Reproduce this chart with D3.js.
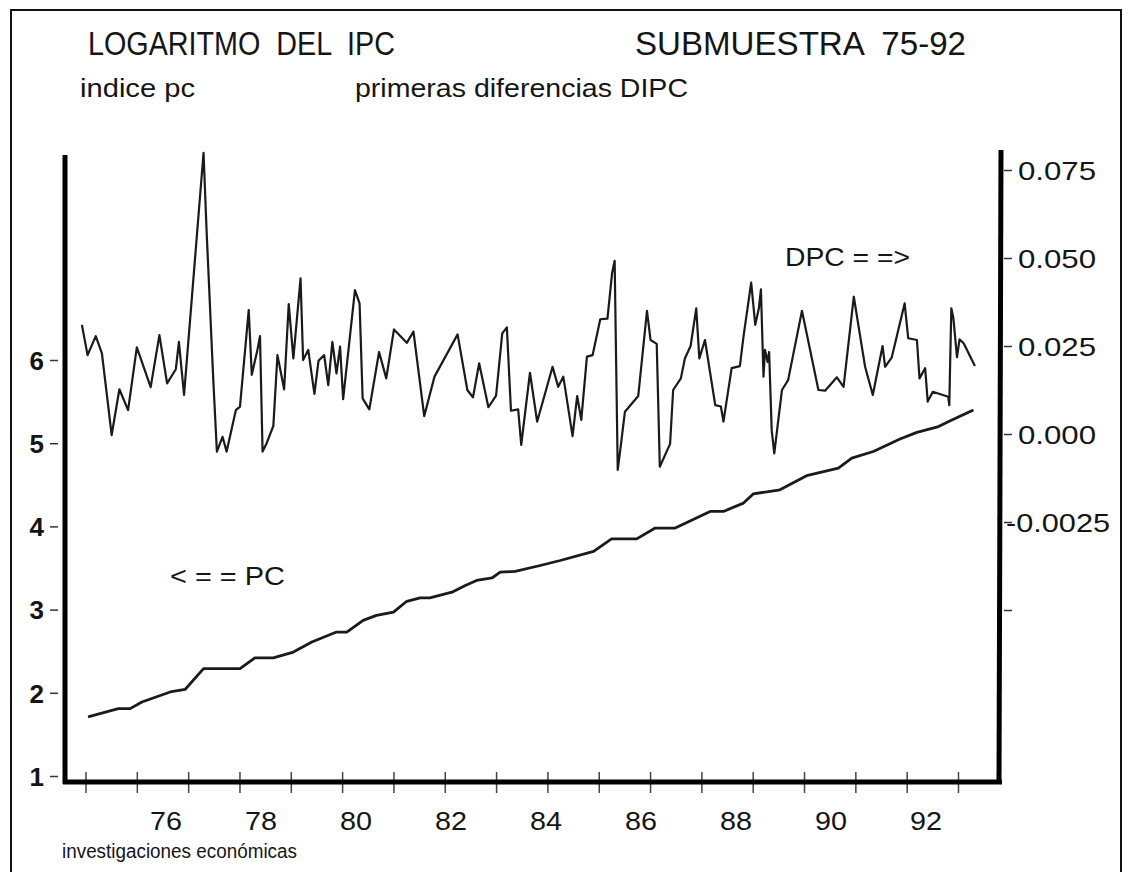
<!DOCTYPE html>
<html>
<head>
<meta charset="utf-8">
<script src="https://cdn.jsdelivr.net/npm/d3@7"></script>
<style>
  body { margin: 0; background: #fff; }
  text { font-family: "Liberation Sans", Arial, Helvetica, sans-serif; fill: #151515; }
</style>
</head>
<body>
<svg id="chart" width="1135" height="872"></svg>
<script>
// years on the time axis and the printed labels
var years = [1975,1976,1977,1978,1979,1980,1981,1982,1983,1984,1985,1986,1987,1988,1989,1990,1991,1992];
var yearLabels = ["76","78","80","82","84","86","88","90","92"];

// left axis (log CPI) and right axis (first differences)
var pcTicks = [1,2,3,4,5,6];
var dpcTicks = [0.075,0.05,0.025,0,-0.025,-0.05];
var dpcTickLabels = ["0.075","0.050","0.025","0.000","-0.0025",""];

// PC : logaritmo del IPC
var pcDates = [1975.05,1975.64,1975.87,1976.10,1976.65,1976.94,1977.30,1978.01,1978.30,1978.66,
  1979.05,1979.41,1979.89,1980.09,1980.41,1980.67,1981.00,1981.26,1981.52,1981.71,
  1982.14,1982.40,1982.62,1982.92,1983.08,1983.37,1983.86,1984.25,1984.90,1985.25,
  1985.74,1986.10,1986.49,1987.17,1987.43,1987.82,1988.01,1988.53,1989.05,1989.67,
  1989.93,1990.35,1990.87,1991.20,1991.62,1991.85,1992.30];
var pcValues = [1.71,1.81,1.81,1.89,2.01,2.04,2.29,2.29,2.42,2.42,
  2.49,2.61,2.73,2.73,2.87,2.93,2.97,3.10,3.14,3.14,
  3.21,3.29,3.35,3.38,3.45,3.46,3.53,3.59,3.70,3.85,
  3.85,3.98,3.98,4.18,4.18,4.28,4.39,4.44,4.61,4.70,
  4.82,4.90,5.05,5.13,5.20,5.27,5.40];

// DPC : primeras diferencias
var dpcDates = [1974.93,1975.04,1975.20,1975.32,1975.51,1975.66,1975.83,1976.00,1976.27,1976.44,
  1976.59,1976.76,1976.82,1976.92,1977.30,1977.36,1977.49,1977.56,1977.67,1977.75,
  1977.93,1978.01,1978.18,1978.24,1978.35,1978.40,1978.45,1978.53,1978.66,1978.74,
  1978.87,1978.96,1979.05,1979.19,1979.24,1979.34,1979.46,1979.54,1979.65,1979.73,
  1979.81,1979.89,1979.96,1980.02,1980.25,1980.34,1980.40,1980.53,1980.72,1980.86,
  1981.01,1981.26,1981.39,1981.60,1981.80,1982.25,1982.44,1982.55,1982.67,1982.85,
  1983.00,1983.12,1983.21,1983.29,1983.43,1983.49,1983.66,1983.80,1984.10,1984.21,
  1984.31,1984.49,1984.58,1984.66,1984.77,1984.88,1985.03,1985.17,1985.26,1985.31,
  1985.37,1985.42,1985.51,1985.77,1985.94,1986.01,1986.13,1986.19,1986.39,1986.45,
  1986.60,1986.68,1986.79,1986.90,1986.96,1987.07,1987.27,1987.38,1987.43,1987.59,
  1987.75,1987.82,1987.97,1988.05,1988.12,1988.16,1988.21,1988.24,1988.29,1988.32,
  1988.37,1988.42,1988.57,1988.69,1988.96,1989.28,1989.41,1989.64,1989.77,1989.97,
  1990.09,1990.19,1990.34,1990.53,1990.58,1990.71,1990.96,1991.03,1991.20,1991.25,
  1991.36,1991.41,1991.51,1991.81,1991.83,1991.87,1991.91,1991.98,1992.03,1992.11,1992.33];
var dpcValues = [0.0310,0.0224,0.0278,0.0229,-0.0003,0.0127,0.0068,0.0246,0.0133,0.0281,
  0.0144,0.0184,0.0262,0.0111,0.0799,0.0575,0.0153,-0.0050,-0.0008,-0.0050,
  0.0068,0.0078,0.0352,0.0168,0.0239,0.0278,-0.0050,-0.0026,0.0023,0.0224,
  0.0127,0.0369,0.0215,0.0442,0.0210,0.0239,0.0114,0.0208,0.0224,0.0139,
  0.0262,0.0172,0.0248,0.0099,0.0409,0.0371,0.0101,0.0070,0.0233,0.0158,
  0.0297,0.0259,0.0291,0.0051,0.0163,0.0283,0.0125,0.0104,0.0201,0.0076,
  0.0109,0.0286,0.0303,0.0066,0.0070,-0.0031,0.0174,0.0035,0.0191,0.0134,
  0.0163,-0.0006,0.0108,0.0040,0.0220,0.0224,0.0326,0.0328,0.0457,0.0492,
  -0.0102,-0.0045,0.0063,0.0108,0.0350,0.0267,0.0256,-0.0093,-0.0028,0.0125,
  0.0158,0.0215,0.0250,0.0357,0.0215,0.0267,0.0082,0.0078,0.0035,0.0187,
  0.0193,0.0276,0.0430,0.0310,0.0357,0.0411,0.0163,0.0239,0.0205,0.0233,
  0.0011,-0.0055,0.0125,0.0153,0.0350,0.0125,0.0123,0.0161,0.0134,0.0390,
  0.0281,0.0191,0.0111,0.0250,0.0191,0.0218,0.0371,0.0272,0.0267,0.0158,
  0.0187,0.0092,0.0120,0.0106,0.0082,0.0357,0.0329,0.0218,0.0269,0.0258,0.0193];

var svg = d3.select("#chart");

var x = d3.scaleLinear().domain([1975, 1992]).range([85.5, 958]);
var yPC = d3.scaleLinear().domain([1, 6]).range([776, 360]);
var yDPC = d3.scaleLinear().domain([-0.05, 0.075]).range([610, 170]);
var xLabel = d3.scalePoint().domain(yearLabels).range([166, 926]);

// outer frame
svg.append("rect")
  .attr("x", 11).attr("y", 10)
  .attr("width", 1110).attr("height", 900)
  .attr("fill", "none")
  .attr("stroke", "#111")
  .attr("stroke-width", 2);

// headings (narrow face in the original, squeezed to the printed width)
function label(txt, px, py, size, len) {
  var t = svg.append("text")
    .attr("x", px).attr("y", py)
    .attr("font-size", size)
    .style("white-space", "pre")
    .text(txt);
  if (len) t.attr("textLength", len).attr("lengthAdjust", "spacingAndGlyphs");
  return t;
}
label("LOGARITMO  DEL  IPC", 88, 55, 33, 307);
label("SUBMUESTRA  75-92", 635, 55, 33, 331);
label("indice pc", 80, 97, 26, 115);
label("primeras diferencias DIPC", 355, 97, 26, 333);
label("DPC = =>", 785, 266, 25, 125);
label("< = = PC", 170, 585, 25, 115);
label("investigaciones económicas", 62, 858, 20, 235);

// left axis ticks + labels
var gl = svg.append("g")
  .attr("transform", "translate(58,0)")
  .call(d3.axisLeft(yPC).tickValues(pcTicks).tickSize(8).tickPadding(6).tickFormat(d3.format("d")));
gl.select(".domain").remove();
gl.selectAll("line").attr("stroke", "#333").attr("stroke-width", 1.5);
gl.selectAll("text").attr("font-size", 26).attr("font-weight", "bold").attr("dy", "0.36em")
  .attr("font-family", "'Liberation Sans', Arial, sans-serif").attr("fill", "#151515");

// right axis ticks + labels
var gr = svg.append("g")
  .attr("transform", "translate(1004,0)")
  .call(d3.axisRight(yDPC).tickValues(dpcTicks).tickSize(8).tickPadding(6)
    .tickFormat(function(d, i) { return dpcTickLabels[i]; }));
gr.select(".domain").remove();
gr.selectAll("line").attr("stroke", "#333").attr("stroke-width", 1.5);
gr.selectAll("text").attr("font-size", 26).attr("dy", "0.36em")
  .attr("font-family", "'Liberation Sans', Arial, sans-serif").attr("fill", "#151515")
  .each(function() {
    var el = d3.select(this);
    var w = this.getComputedTextLength();
    if (w <= 0) return;
    if (el.text().charAt(0) == "-") {
      // minus sign sits over the tick in the original
      el.attr("x", 2).attr("textLength", 104).attr("lengthAdjust", "spacingAndGlyphs");
    } else {
      el.attr("textLength", w * 1.2).attr("lengthAdjust", "spacingAndGlyphs");
    }
  });

// bottom ticks crossing the axis
var gb = svg.append("g")
  .attr("transform", "translate(0,772)")
  .call(d3.axisBottom(x).tickValues(years).tickSize(21).tickFormat(""));
gb.select(".domain").remove();
gb.selectAll("line").attr("stroke", "#444").attr("stroke-width", 1.5);

svg.append("g")
  .selectAll("text")
  .data(yearLabels)
  .enter()
  .append("text")
  .attr("x", function(d) { return xLabel(d); })
  .attr("y", 830)
  .attr("text-anchor", "middle")
  .attr("font-size", 26)
  .attr("textLength", 32)
  .attr("lengthAdjust", "spacingAndGlyphs")
  .text(function(d) { return d; });

// heavy frame lines of the plot
svg.append("line").attr("x1", 65).attr("x2", 65).attr("y1", 155).attr("y2", 784)
  .attr("stroke", "#000").attr("stroke-width", 5);
svg.append("line").attr("x1", 63).attr("x2", 1002).attr("y1", 782).attr("y2", 782)
  .attr("stroke", "#000").attr("stroke-width", 5);
svg.append("line").attr("x1", 1001).attr("x2", 999).attr("y1", 150).attr("y2", 784)
  .attr("stroke", "#000").attr("stroke-width", 5);

// series
var pcData = pcDates.map(function(d, i) { return { t: d, v: pcValues[i] }; });
var dpcData = dpcDates.map(function(d, i) { return { t: d, v: dpcValues[i] }; });

var pcLine = d3.line()
  .x(function(d) { return x(d.t); })
  .y(function(d) { return yPC(d.v); });
var dpcLine = d3.line()
  .x(function(d) { return x(d.t); })
  .y(function(d) { return yDPC(d.v); });

svg.append("path")
  .datum(pcData)
  .attr("fill", "none")
  .attr("stroke", "#1a1a1a")
  .attr("stroke-width", 2.8)
  .attr("stroke-linejoin", "round")
  .attr("d", pcLine);

svg.append("path")
  .datum(dpcData)
  .attr("fill", "none")
  .attr("stroke", "#1a1a1a")
  .attr("stroke-width", 2.2)
  .attr("stroke-linejoin", "round")
  .attr("d", dpcLine);
</script>
</body>
</html>
